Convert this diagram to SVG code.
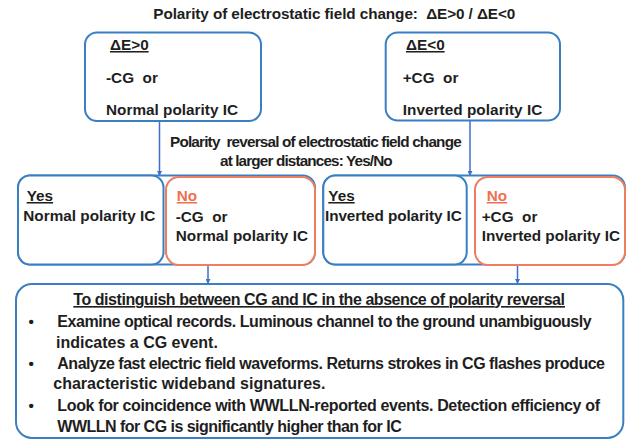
<svg xmlns="http://www.w3.org/2000/svg" width="630" height="441" viewBox="0 0 630 441">
<defs>
<marker id="arr" viewBox="0 0 10 10" refX="10" refY="5" markerWidth="5" markerHeight="5" orient="auto" markerUnits="userSpaceOnUse">
<path d="M0,0 L10,5 L0,10 z" fill="#3f6fc4"/>
</marker>
<style>
text{font-family:"Liberation Sans",Arial,sans-serif;font-weight:bold;font-size:15.3px;fill:#1e1e1e;white-space:pre}
.big{font-size:16px}
.blue{fill:#ffffff;stroke:#3a7fc1;stroke-width:2}
.orange{fill:#ffffff;stroke:#ef7e5f;stroke-width:2}
.u{text-decoration:underline}
.no{fill:#f0704f;text-decoration:underline}
.conn{stroke:#3f6fc4;stroke-width:1.5;fill:none;marker-end:url(#arr)}
</style>
</defs>
<rect width="630" height="441" fill="#ffffff"/>
<text id="title" x="153.3" y="19" textLength="362" xml:space="preserve">Polarity of electrostatic field change:  ΔE&gt;0 / ΔE&lt;0</text>

<g id="connectors">
<line class="conn" x1="159.5" y1="121" x2="159.5" y2="176"/>
<line class="conn" x1="470" y1="120.5" x2="470" y2="176"/>
<line class="conn" x1="208" y1="265" x2="208" y2="284"/>
<line class="conn" x1="517.5" y1="265" x2="517.5" y2="284"/>
</g>

<g id="node-pos">
<rect class="blue" x="85" y="32.5" width="176" height="88.5" rx="12"/>
<text x="110" y="50" class="u">ΔE&gt;0</text>
<text x="106" y="82.5" xml:space="preserve">-CG  or</text>
<text x="106" y="115" textLength="132">Normal polarity IC</text>
</g>

<g id="node-neg">
<rect class="blue" x="385.7" y="32.5" width="174.3" height="88" rx="12"/>
<text x="406" y="50" class="u">ΔE&lt;0</text>
<text x="402.7" y="82.5" xml:space="preserve">+CG  or</text>
<text x="402.7" y="115" textLength="139.6">Inverted polarity IC</text>
</g>

<g id="question">
<text x="170" y="146.7" textLength="291.7" xml:space="preserve">Polarity  reversal of electrostatic field change</text>
<text x="220" y="165.7" textLength="172.7">at larger distances: Yes/No</text>
</g>

<g id="frame-left">
<rect class="blue" x="18" y="175.5" width="297" height="89" rx="12"/>
</g>
<g id="node-left-yes">
<rect class="blue" x="18" y="175.5" width="145.5" height="89" rx="12"/>
<text x="26.7" y="201" class="u">Yes</text>
<text x="23.3" y="221" textLength="132">Normal polarity IC</text>
</g>
<g id="node-left-no">
<rect class="orange" x="166" y="177" width="149" height="88" rx="13"/>
<text x="176.7" y="201" class="no">No</text>
<text x="175.7" y="221.5" xml:space="preserve">-CG  or</text>
<text x="175.7" y="241" textLength="132.3">Normal polarity IC</text>
</g>

<g id="frame-right">
<rect class="blue" x="323.3" y="175.5" width="301.7" height="89" rx="12"/>
</g>
<g id="node-right-yes">
<rect class="blue" x="323.3" y="175.5" width="143.4" height="89" rx="12"/>
<text x="328.3" y="201" class="u">Yes</text>
<text x="325" y="221" textLength="136.7">Inverted polarity IC</text>
</g>
<g id="node-right-no">
<rect class="orange" x="475" y="177" width="150" height="88" rx="13"/>
<text x="486.7" y="201" class="no">No</text>
<text x="481.7" y="221.5" xml:space="preserve">+CG  or</text>
<text x="481.7" y="241" textLength="138.3">Inverted polarity IC</text>
</g>

<g id="node-bottom">
<rect class="blue" x="16" y="284" width="607.3" height="154" rx="16"/>
<text x="73.3" y="305" class="u big" textLength="491.7">To distinguish between CG and IC in the absence of polarity reversal</text>
<text x="28.5" y="326.7">•</text>
<text x="57.3" y="326.7" class="big" textLength="534.4">Examine optical records. Luminous channel to the ground unambiguously</text>
<text x="56" y="347.7" class="big">indicates a CG event.</text>
<text x="28.5" y="369">•</text>
<text x="57.3" y="369" class="big" textLength="547.7">Analyze fast electric field waveforms. Returns strokes in CG flashes produce</text>
<text x="53.3" y="389" class="big">characteristic wideband signatures.</text>
<text x="28.5" y="410.7">•</text>
<text x="57.3" y="410.7" class="big" textLength="542.7">Look for coincidence with WWLLN-reported events. Detection efficiency of</text>
<text x="57.3" y="431.7" class="big" textLength="344.4">WWLLN for CG is significantly higher than for IC</text>
</g>
</svg>
